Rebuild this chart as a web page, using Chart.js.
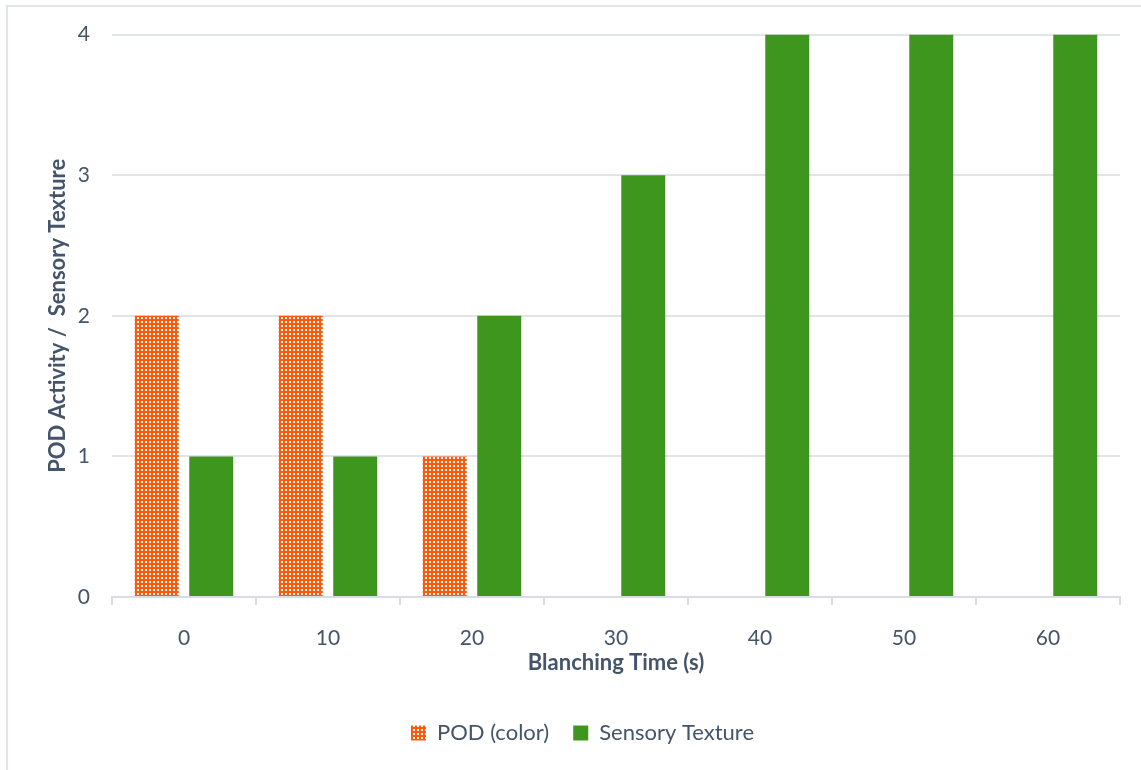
<!DOCTYPE html>
<html>
<head>
<meta charset="utf-8">
<script src="https://cdn.jsdelivr.net/npm/chart.js@4.4.1/dist/chart.umd.min.js"></script>
<style>
  html, body { margin: 0; padding: 0; background: #fff; }
  #wrap { position: relative; width: 1141px; height: 770px; overflow: hidden; }
  #frame { position: absolute; left: 6px; top: 5px; width: 1200px; height: 800px;
           border: 2px solid #E1E5EA; box-sizing: border-box; pointer-events: none; }
  canvas { position: absolute; left: 0; top: 0; }
</style>
</head>
<body>
<div id="wrap">
  <div id="frame"></div>
  <canvas id="c" width="1141" height="770"></canvas>
</div>
<script>
// Blanching time categories and scores
const blanchingTimes = ['0', '10', '20', '30', '40', '50', '60'];
const podColor = [2, 2, 1, 0, 0, 0, 0];
const sensoryTexture = [1, 1, 2, 3, 4, 4, 4];
const yTicks = [0, 1, 2, 3, 4];

const textColor = '#44546A';
const fontFamily = 'Lato, "Open Sans", "Liberation Sans", sans-serif';

// Orange dotted-grid fill for the POD series
function dottedPattern() {
  const t = document.createElement('canvas');
  t.width = 4; t.height = 4;
  const g = t.getContext('2d');
  g.fillStyle = '#FF5A0A';
  g.fillRect(0, 0, 4, 4);
  g.fillStyle = '#FFFFFF';
  g.fillRect(1, 1, 2, 2);
  return g.createPattern(t, 'repeat');
}

const ctx = document.getElementById('c').getContext('2d');
const podFill = dottedPattern();

new Chart(ctx, {
  type: 'bar',
  data: {
    labels: blanchingTimes,
    datasets: [
      { label: 'POD (color)', data: podColor, backgroundColor: podFill, borderWidth: 0 },
      { label: 'Sensory Texture', data: sensoryTexture, backgroundColor: '#3F961E', borderWidth: 0 }
    ]
  },
  options: {
    responsive: false,
    animation: false,
    devicePixelRatio: 1,
    categoryPercentage: 0.757,
    barPercentage: 0.807,
    layout: { padding: { left: 45, right: 21, top: 23, bottom: 16 } },
    plugins: {
      tooltip: { enabled: false },
      legend: {
        position: 'bottom',
        labels: {
          color: textColor,
          font: { family: fontFamily, size: 22 },
          boxWidth: 15,
          boxHeight: 15,
          padding: 24
        }
      }
    },
    scales: {
      x: {
        grid: { offset: true, drawOnChartArea: false, drawTicks: true, tickLength: 8, color: '#D9DDE3', lineWidth: 2 },
        border: { display: true, color: '#D9DDE3', width: 2 },
        ticks: { color: textColor, font: { family: fontFamily, size: 21 }, padding: 21 },
        title: { display: true, text: 'Blanching Time (s)', color: textColor,
                 font: { family: fontFamily, size: 22, weight: 'bold' }, padding: { top: 4, bottom: 22 } },
        afterFit: (s) => { s.height = 101; }
      },
      y: {
        min: 0, max: 4,
        afterBuildTicks: (s) => { s.ticks = yTicks.map(v => ({ value: v })); },
        grid: { color: '#E1E5EA', lineWidth: 2, drawTicks: false },
        border: { display: false },
        ticks: { color: textColor, font: { family: fontFamily, size: 21 }, padding: 22 },
        title: { display: true, text: 'POD Activity /  Sensory Texture', color: textColor,
                 font: { family: fontFamily, size: 22, weight: 'bold' }, padding: { top: 0, bottom: 4 } },
        afterFit: (s) => { s.width = 67; }
      }
    }
  }
});
</script>
</body>
</html>
